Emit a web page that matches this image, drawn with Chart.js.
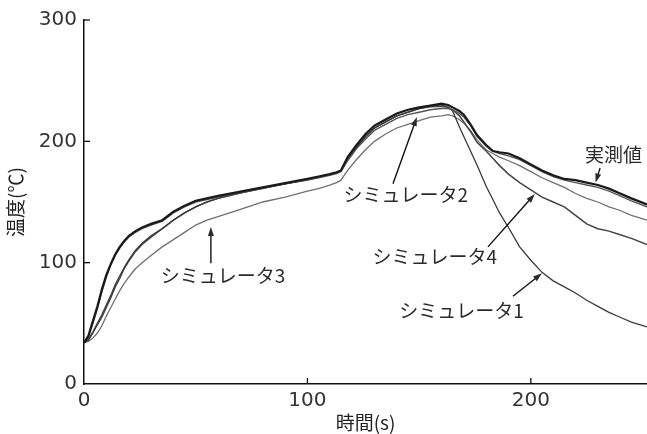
<!DOCTYPE html>
<html>
<head>
<meta charset="utf-8">
<script src="https://cdn.jsdelivr.net/npm/chart.js@4.4.1/dist/chart.umd.min.js"></script>
<style>
  html, body { margin: 0; padding: 0; background: #fff; }
  canvas { display: block; }
</style>
</head>
<body>
<canvas id="chart_temp" width="647" height="434"></canvas>
<script>
// time axis (s)
const times = [0, 2, 4, 6, 8, 10, 12, 14, 16, 18, 20, 23, 26, 30, 35, 40, 45, 50, 55, 60,
               70, 80, 90, 100, 105, 110, 113, 115, 118, 122, 126, 130, 135, 140, 145, 150,
               155, 160, 163, 165, 168, 170, 173, 176, 180, 183, 186, 190, 195, 200, 205,
               210, 215, 220, 225, 230, 235, 240, 245, 252];

// temperatures (°C)
const measured = [34, 40, 52, 64, 78, 90, 99, 107, 113, 118, 122, 126, 129, 132, 135, 142, 147, 151, 153, 155,
                  158.5, 162, 165.5, 169, 171, 173, 174.5, 176, 187, 197, 206, 213, 218, 223, 226, 228,
                  229.5, 231, 230, 228, 225, 222, 214, 205, 197, 192, 191, 190, 186, 181, 176,
                  172, 169, 168, 166, 164, 161, 157, 153, 148];
const sim1 = [34, 36, 42, 49, 55, 63, 71, 80, 87, 95, 101, 109, 115, 121, 128, 135, 141, 146, 150, 153,
              157.5, 161.5, 165, 168.5, 170.5, 172.5, 174, 175.5, 185, 195, 204, 211, 216, 221, 224, 227,
              229, 230, 228, 225, 212, 204, 192, 180, 163, 152, 141, 129, 113, 102, 92,
              85, 80, 75, 69, 64, 59, 55, 51, 47];
const sim2 = [34, 39, 50, 62, 76, 88, 98, 106, 112, 117, 121, 125, 128, 131, 134, 141, 146, 150, 152, 154,
              157.5, 161, 165, 168, 170, 172, 173.5, 175, 184, 194, 202, 209, 214, 219, 222, 224,
              226, 227, 227, 226, 223, 220, 213, 204, 196, 192, 190, 188, 185, 180, 175,
              171, 168, 166, 164, 162, 159, 155, 151, 146];
const sim3 = [34, 35, 38, 42, 48, 56, 63, 70, 77, 83, 88, 95, 100, 106, 113, 119, 125, 131, 135, 138,
              144, 150, 154, 159, 161, 164, 166, 168, 176, 185, 193, 200, 206, 211, 214, 217,
              220, 221, 222, 221, 218, 215, 209, 201, 193, 190, 187, 184, 180, 175, 170,
              166, 162, 157, 153, 150, 146, 143, 139, 135];
const sim4 = [34, 37, 43, 50, 57, 65, 73, 82, 89, 96, 102, 110, 116, 122, 128, 135, 141, 146, 150, 153,
              157.5, 161.5, 165, 168.5, 170.5, 172.5, 174, 175.5, 185, 195, 204, 211, 216, 221, 224, 227,
              228.5, 229, 228, 226, 221, 216, 208, 199, 192, 186, 180, 173, 166, 160, 154,
              150, 146, 139, 132, 128, 126, 123, 120, 115];

const xTicks = [0, 100, 200];
const yTicks = [0, 100, 200, 300];

// label text, label position, arrow start, arrow tip (data units)
const notes = [
    {text: '実測値',       at: [237, 189],  from: [231, 178],   to: [229, 166]},
    {text: 'シミュレータ2', at: [144, 156],  from: [138.3, 165], to: [149, 220]},
    {text: 'シミュレータ4', at: [157, 104.5], from: [180.8, 113], to: [201.8, 156.6]},
    {text: 'シミュレータ1', at: [169, 60.7], from: [192, 72.3],  to: [205, 91.3]},
    {text: 'シミュレータ3', at: [62.2, 89],  from: [56.8, 99.6], to: [56.8, 129.3]}
];

function toPoints(values) {
    return times.map((t, i) => ({x: t, y: values[i]}));
}

// short ticks pointing into the plot
const insideTicks = {
    id: 'insideTicks',
    afterDraw(chart) {
        const ctx = chart.ctx;
        const xs = chart.scales.x, ys = chart.scales.y;
        const area = chart.chartArea;
        ctx.save();
        ctx.strokeStyle = '#111';
        ctx.lineWidth = 1.3;
        xTicks.slice(1).forEach(v => {
            const px = xs.getPixelForValue(v);
            ctx.beginPath();
            ctx.moveTo(px, area.bottom);
            ctx.lineTo(px, area.bottom - 6);
            ctx.stroke();
        });
        yTicks.slice(1).forEach(v => {
            const py = ys.getPixelForValue(v);
            ctx.beginPath();
            ctx.moveTo(area.left, py);
            ctx.lineTo(area.left + 6, py);
            ctx.stroke();
        });
        ctx.restore();
    }
};

const notesPlugin = {
    id: 'notes',
    afterDraw(chart) {
        const ctx = chart.ctx;
        const xs = chart.scales.x, ys = chart.scales.y;
        ctx.save();
        ctx.font = '19px "Noto Sans CJK JP"';
        ctx.fillStyle = '#2a2a2a';
        ctx.strokeStyle = '#111';
        ctx.lineWidth = 1.4;
        ctx.textAlign = 'center';
        ctx.textBaseline = 'middle';
        notes.forEach(n => {
            ctx.fillText(n.text, xs.getPixelForValue(n.at[0]), ys.getPixelForValue(n.at[1]));
            const x1 = xs.getPixelForValue(n.from[0]), y1 = ys.getPixelForValue(n.from[1]);
            const x2 = xs.getPixelForValue(n.to[0]), y2 = ys.getPixelForValue(n.to[1]);
            const ang = Math.atan2(y2 - y1, x2 - x1);
            ctx.beginPath();
            ctx.moveTo(x1, y1);
            ctx.lineTo(x2 - 6 * Math.cos(ang), y2 - 6 * Math.sin(ang));
            ctx.stroke();
            ctx.beginPath();
            ctx.moveTo(x2, y2);
            ctx.lineTo(x2 - 9 * Math.cos(ang) + 3 * Math.sin(ang), y2 - 9 * Math.sin(ang) - 3 * Math.cos(ang));
            ctx.lineTo(x2 - 9 * Math.cos(ang) - 3 * Math.sin(ang), y2 - 9 * Math.sin(ang) + 3 * Math.cos(ang));
            ctx.closePath();
            ctx.fill();
        });
        ctx.restore();
    }
};

const ctx_temp = document.getElementById('chart_temp').getContext('2d');

var chart_temp = new Chart(ctx_temp, {
    type: 'line',
    data: {
        datasets: [
            {label: '実測値', data: toPoints(measured), borderColor: '#1a1a1a', borderWidth: 2.2},
            {label: 'シミュレータ2', data: toPoints(sim2), borderColor: '#555555', borderWidth: 1.4},
            {label: 'シミュレータ1', data: toPoints(sim1), borderColor: '#3a3a3a', borderWidth: 1.3},
            {label: 'シミュレータ4', data: toPoints(sim4), borderColor: '#444444', borderWidth: 1.5},
            {label: 'シミュレータ3', data: toPoints(sim3), borderColor: '#707070', borderWidth: 1.3}
        ]
    },
    options: {
        responsive: false,
        devicePixelRatio: 1,
        animation: false,
        layout: {padding: {top: 20, right: 0, left: 0, bottom: 0}},
        elements: {
            point: {radius: 0},
            line: {tension: 0, fill: false}
        },
        plugins: {
            legend: {display: false},
            tooltip: {enabled: false}
        },
        scales: {
            x: {
                type: 'linear',
                min: 0,
                max: 252,
                afterBuildTicks: s => { s.ticks = xTicks.map(v => ({value: v})); },
                afterFit: s => { s.height = 50; },
                grid: {display: false, drawTicks: false},
                border: {display: true, color: '#111', width: 1.5},
                ticks: {
                    padding: 5,
                    color: '#333',
                    font: {family: 'DejaVu Sans', size: 20}
                },
                title: {
                    display: true,
                    text: '時間(s)',
                    color: '#222',
                    padding: {top: 0, bottom: 0},
                    font: {family: 'Noto Sans CJK JP', size: 19}
                }
            },
            y: {
                min: 0,
                max: 300,
                afterBuildTicks: s => { s.ticks = yTicks.map(v => ({value: v})); },
                afterFit: s => { s.width = 84; },
                grid: {display: false, drawTicks: false},
                border: {display: true, color: '#111', width: 1.5},
                ticks: {
                    padding: 7,
                    color: '#333',
                    font: {family: 'DejaVu Sans', size: 20}
                },
                title: {
                    display: true,
                    text: '温度(℃)',
                    color: '#222',
                    padding: {top: 4, bottom: 0},
                    font: {family: 'Noto Sans CJK JP', size: 19}
                }
            }
        }
    },
    plugins: [insideTicks, notesPlugin]
});
</script>
</body>
</html>
